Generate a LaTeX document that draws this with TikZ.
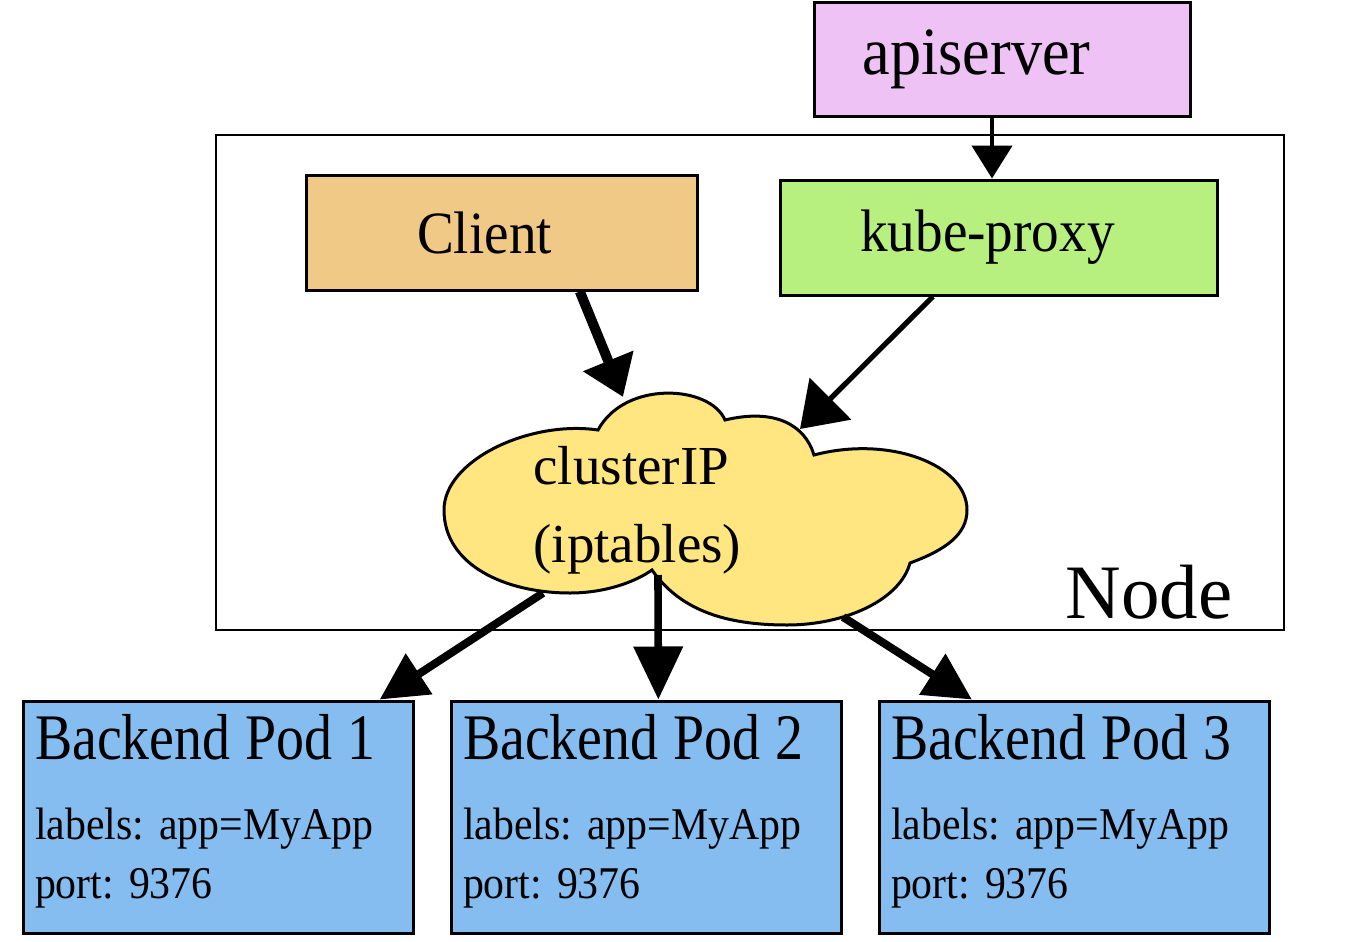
\documentclass[tikz,border=0pt]{standalone}
\usepackage{fontspec}
\setmainfont{Liberation Serif}
\newfontfamily\narrowfont{Liberation Serif}[FakeStretch=0.86]
\newfontfamily\semifont{Liberation Serif}[FakeStretch=0.92]
\usetikzlibrary{arrows.meta}
\definecolor{apicol}{RGB}{238,194,245}
\definecolor{clientcol}{RGB}{240,201,135}
\definecolor{proxycol}{RGB}{184,240,128}
\definecolor{cloudcol}{RGB}{255,230,128}
\definecolor{podcol}{RGB}{133,189,240}
\tikzset{box/.style={draw,line width=1.5pt,inner sep=0pt,fill=#1},
  flow/.style n args={3}{line width=#1,-{Triangle[length=#2,width=#3]}},
  pod/.style={box=podcol,minimum width=195pt,minimum height=116pt,align=left,
    text width=183pt,inner xsep=6pt,font=\semifont\fontsize{22.7}{29.5}\selectfont}}

\begin{document}
\begin{tikzpicture}[x=0.5pt,y=-0.5pt]
\useasboundingbox (0,0) rectangle (1355,942);
% node frame
\node[draw,line width=0.6pt,minimum width=534pt,minimum height=247.5pt] (frame) at (750,382.5) {};
\node[font=\fontsize{38.5}{40}\selectfont,inner sep=0pt] (nodelabel) at (1149,592) {Node};
% boxes
\node[box=apicol,minimum width=188pt,minimum height=57pt,font=\semifont\fontsize{33.8}{36}\selectfont] (api) at (1002,59) {apiserver\hspace*{25.5pt}};
\node[box=clientcol,minimum width=195.5pt,minimum height=57.5pt,font=\semifont\fontsize{30}{32}\selectfont] (client) at (501.5,232.5) {Client\hspace*{17pt}};
\node[box=proxycol,minimum width=218.5pt,minimum height=57.5pt,font=\semifont\fontsize{30}{32}\selectfont] (proxy) at (998.5,237.5) {kube-proxy\hspace*{11pt}};
% cloud
\draw[line width=1.5pt,fill=cloudcol] (598,430)
  .. controls (530,420) and (444,460) .. (444,510)
  .. controls (444,565) and (505,593) .. (570,593)
  .. controls (605,593) and (635,582) .. (652,570)
  .. controls (680,610) and (725,625) .. (787,625)
  .. controls (845,625) and (900,600) .. (910,563)
  .. controls (945,550) and (967,535) .. (967,510)
  .. controls (967,465) and (890,435) .. (814,455)
  .. controls (805,425) and (775,408) .. (725,420)
  .. controls (710,385) and (625,380) .. (598,430) -- cycle;
\node[anchor=west,align=left,inner sep=0pt,font=\fontsize{27.5}{39}\selectfont] (cip) at (533,510) {clusterIP\\(iptables)};
\coordinate (cip-in1) at (623,397);
\coordinate (cip-in2) at (800,429);
\coordinate (cip-out1) at (543,593);
\coordinate (cip-out2) at (658,575);
\coordinate (cip-out3) at (843,617);
% pods
\foreach \i/\x in {1/218,2/646,3/1074}
  \node[pod] (pod\i) at (\x,817) {{\narrowfont\fontsize{32.5}{34}\selectfont Backend Pod \i}\\[10.5pt]labels:\ app=MyApp\\port:\ 9376\rule[-11pt]{0pt}{0pt}};
% arrows
\draw[flow={2.3pt}{16.5pt}{20pt}] (api.south -| 992,0) -- (proxy.north -| 992,0);
\draw[flow={5pt}{19.5pt}{26pt}] (client.-37) -- (cip-in1);
\draw[flow={2.6pt}{21.5pt}{29pt}] (proxy.-138) -- (cip-in2);
\draw[flow={4pt}{23.5pt}{23.5pt}] (cip-out1) -- (pod1.36);
\draw[flow={3.8pt}{26.5pt}{24pt}] (cip-out2) -- (pod2.84);
\draw[flow={4pt}{23.5pt}{23.5pt}] (cip-out3) -- (pod3.131);
\end{tikzpicture}
\end{document}
